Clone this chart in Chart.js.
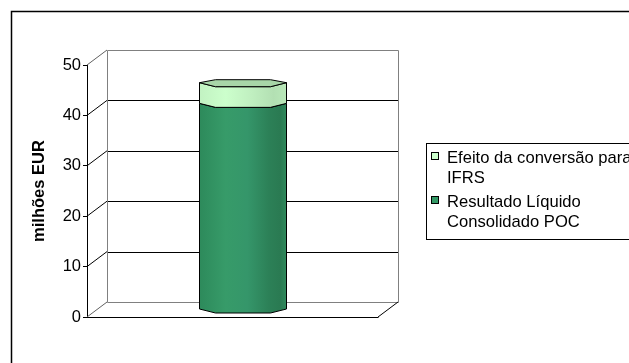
<!DOCTYPE html>
<html><head><meta charset="utf-8">
<script src="https://cdn.jsdelivr.net/npm/chart.js@4.4.0/dist/chart.umd.min.js"></script>
<style>html,body{margin:0;padding:0;background:#fff;overflow:hidden}canvas{display:block}</style>
</head><body>
<canvas id="c" width="629" height="363"></canvas>
<script>
// ---- data ----
const categories = [''];
const pocValues = [40.9];          // Resultado Líquido Consolidado POC
const ifrsValues = [4.1];          // Efeito da conversão para IFRS
const seriesLabels = ['Resultado Líquido Consolidado POC', 'Efeito da conversão para IFRS'];
const seriesColors = ['#339966', '#ccffcc'];
const yMin = 0, yMax = 50, yStep = 10;
const axisTitle = 'milhões EUR';

const FONT = '"Liberation Sans", Arial, Helvetica, sans-serif';
const DX = 20, DY = -15;

function px(v){ return Math.round(v) + 0.5; }
function seg(ctx, x1, y1, x2, y2){ ctx.beginPath(); ctx.moveTo(x1, y1); ctx.lineTo(x2, y2); ctx.stroke(); }

const sideGrad = {
  0: [[0,'#2d8a5b'],[0.3,'#379b69'],[0.55,'#35966a'],[0.8,'#2c8057'],[0.93,'#2a7a52'],[1,'#2f8a5c']],
  1: [[0,'#c2f2c2'],[0.3,'#ccffcc'],[0.6,'#c0efc0'],[0.85,'#b3e0b3'],[1,'#b9e8b9']]
};

const threeD = {
  id: 'threeD',
  beforeDatasetsDraw(chart) {
    const {ctx, chartArea: a, scales: {y}} = chart;
    ctx.save();
    ctx.lineWidth = 1;
    // back wall + diagonals
    y.ticks.forEach(t => {
      const py = y.getPixelForValue(t.value);
      const edge = (t.value === yMin || t.value === yMax);
      ctx.strokeStyle = edge ? '#808080' : '#000';
      seg(ctx, px(a.left + DX), px(py + DY), px(a.right + DX), px(py + DY));
      ctx.strokeStyle = edge ? '#606060' : '#000';
      seg(ctx, a.left, py, a.left + DX, py + DY);
    });
    ctx.strokeStyle = '#808080';
    seg(ctx, px(a.left + DX), px(a.top + DY), px(a.left + DX), px(a.bottom + DY));
    seg(ctx, px(a.right + DX), px(a.top + DY), px(a.right + DX), px(a.bottom + DY));
    // floor
    ctx.strokeStyle = '#000';
    seg(ctx, a.left, px(a.bottom), px(a.right), px(a.bottom));
    seg(ctx, a.right, a.bottom, a.right + DX, a.bottom + DY);

    // bars (cylinder-like prisms), positioned from the library's bar elements
    const bx = DX / 2, by = DY / 2;
    const n = chart.data.datasets.length;
    for (let di = 0; di < n; di++) {
      const meta = chart.getDatasetMeta(di);
      meta.data.forEach(bar => {
        const p = bar.getProps(['x', 'y', 'base', 'width'], true);
        const L = Math.round(p.x - p.width / 2 + bx) + 0.5;
        const R = Math.round(p.x + p.width / 2 + bx) + 0.5;
        const T = p.y + by, B = p.base + by;
        const inset = 16, dn = 4, up = 3;
        const g = ctx.createLinearGradient(L, 0, R, 0);
        sideGrad[di].forEach(s => g.addColorStop(s[0], s[1]));
        ctx.beginPath();
        ctx.moveTo(L, T); ctx.lineTo(L, B);
        ctx.lineTo(L + inset, B + dn); ctx.lineTo(R - inset, B + dn); ctx.lineTo(R, B);
        ctx.lineTo(R, T);
        ctx.lineTo(R - inset, T + dn); ctx.lineTo(L + inset, T + dn);
        ctx.closePath();
        ctx.fillStyle = g; ctx.fill();
        ctx.strokeStyle = '#000'; ctx.stroke();
        if (di === n - 1) {
          ctx.beginPath();
          ctx.moveTo(L, T);
          ctx.lineTo(L + inset, T - up); ctx.lineTo(R - inset, T - up); ctx.lineTo(R, T);
          ctx.lineTo(R - inset, T + dn); ctx.lineTo(L + inset, T + dn);
          ctx.closePath();
          ctx.fillStyle = '#a8d6a8'; ctx.fill();
          ctx.strokeStyle = '#000'; ctx.stroke();
        }
      });
    }
    ctx.restore();
    return false;
  },
  afterDraw(chart) {
    const {ctx} = chart;
    ctx.save();
    // outer frame
    ctx.strokeStyle = '#000'; ctx.lineWidth = 1.5;
    ctx.beginPath(); ctx.moveTo(11.5, 400); ctx.lineTo(11.5, 11.5); ctx.lineTo(700, 11.5); ctx.stroke();
    // legend box
    ctx.lineWidth = 1; ctx.strokeStyle = '#000';
    ctx.strokeRect(426.5, 143.5, 260, 96);
    ctx.font = '16.6px ' + FONT;
    ctx.fillStyle = '#000';
    ctx.textBaseline = 'alphabetic';
    ctx.textAlign = 'left';
    const items = [1, 0]; // legend order: top series first
    const itemBase = [163, 207];
    items.forEach((di, k) => {
      const ds = chart.data.datasets[di];
      // wrap label
      const words = ds.label.split(' ');
      const lines = []; let cur = '';
      words.forEach(w => {
        const test = cur ? cur + ' ' + w : w;
        if (ctx.measureText(test).width > 195 && cur) { lines.push(cur); cur = w; } else cur = test;
      });
      if (cur) lines.push(cur);
      const b0 = itemBase[k];
      ctx.fillStyle = ds.backgroundColor;
      ctx.fillRect(431.5, b0 - 10.5, 7, 7);
      ctx.strokeStyle = '#000';
      ctx.strokeRect(431.5, b0 - 10.5, 7, 7);
      ctx.fillStyle = '#000';
      lines.forEach((ln, i) => ctx.fillText(ln, 447, b0 + i * 20));
    });
    ctx.restore();
  }
};

new Chart(document.getElementById('c'), {
  type: 'bar',
  data: {
    labels: categories,
    datasets: [
      {label: seriesLabels[0], data: pocValues, backgroundColor: seriesColors[0], categoryPercentage: 1, barPercentage: 0.3},
      {label: seriesLabels[1], data: ifrsValues, backgroundColor: seriesColors[1], categoryPercentage: 1, barPercentage: 0.3}
    ]
  },
  options: {
    responsive: false,
    animation: false,
    layout: {padding: {left: 0, top: 65, right: 251, bottom: 46}},
    plugins: {legend: {display: false}, tooltip: {enabled: false}},
    scales: {
      x: {display: false, stacked: true},
      y: {
        stacked: true, min: yMin, max: yMax,
        ticks: {stepSize: yStep, color: '#000', padding: 2, font: {family: FONT, size: 16.5}},
        grid: {drawOnChartArea: false, drawTicks: true, tickLength: 4, color: '#000'},
        border: {display: true, color: '#000'},
        title: {display: true, text: axisTitle, color: '#000', padding: {top: 30, bottom: 0}, font: {family: FONT, size: 16.5, weight: 'bold'}},
        afterFit(s) { s.width = 87; }
      }
    }
  },
  plugins: [threeD]
});
</script>
</body></html>
